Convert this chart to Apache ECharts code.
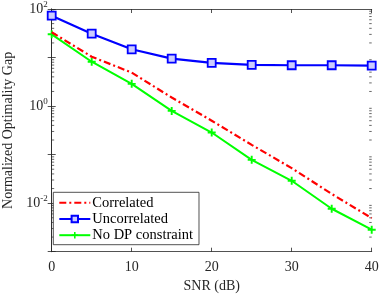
<!DOCTYPE html>
<html><head><meta charset="utf-8">
<script src="https://cdn.jsdelivr.net/npm/echarts@6/dist/echarts.min.js"></script>
<style>html,body{margin:0;padding:0;background:#fff}#c{width:382px;height:297px}</style>
</head><body><div id="c"></div>
<script>
var snr = [0, 5, 10, 15, 20, 25, 30, 35, 40];
var correlated = [33.2, 10.4, 4.9, 1.5, 0.5, 0.159, 0.0527, 0.0155, 0.00493];
var uncorrelated = [72.8, 31, 14.8, 9.5, 7.74, 7.05, 6.94, 6.94, 6.8];
var noDP = [30.1, 8.2, 2.87, 0.796, 0.285, 0.078, 0.0289, 0.00767, 0.00284];
var xTicks = [0, 10, 20, 30, 40];
var yMin = 0.001, yMax = 100;
var minorVals = [];
for (var k = -3; k <= 1; k++) { for (var m = 2; m <= 9; m++) { minorVals.push(m * Math.pow(10, k)); } }

var FONT = 'Liberation Serif';
var TXT = '#262626';
function pair(a) { return a.map(function (v, i) { return [snr[i], v]; }); }
var plus = 'path://M3.8,0H6.2V3.8H10V6.2H6.2V10H3.8V6.2H0V3.8H3.8Z';

var chart = echarts.init(document.getElementById('c'), null, {renderer: 'canvas'});
var axisLine = {show: true, lineStyle: {color: TXT, width: 0.8}};
var yLabel = {
  fontFamily: FONT, fontSize: 14, color: TXT, margin: 4,
  formatter: function (v) {
    var e = Math.round(Math.log10(v));
    if (e % 2 !== 0) return '';
    return '10{sup|' + e + '}';
  },
  rich: {sup: {fontSize: 9, fontFamily: FONT, color: TXT, verticalAlign: 'top', padding: [0, 0, 9, 0]}}
};
chart.setOption({
  animation: false,
  grid: {left: 51.7, right: 10.3, top: 9, bottom: 45.3, containLabel: false, outerBoundsMode: 'none'},
  xAxis: [{
    type: 'value', min: 0, max: 40, interval: 10, position: 'bottom',
    name: 'SNR (dB)', nameLocation: 'middle', nameGap: 27,
    nameTextStyle: {fontFamily: FONT, fontSize: 14, color: TXT},
    axisLine: axisLine, axisTick: {inside: true, length: 4, lineStyle: {color: TXT, width: 0.8}},
    axisLabel: {fontFamily: FONT, fontSize: 14, color: TXT, margin: 9},
    splitLine: {show: false}
  }, {
    type: 'value', min: 0, max: 40, interval: 10, position: 'top',
    axisLine: axisLine, axisTick: {inside: true, length: 4, lineStyle: {color: TXT, width: 0.8}},
    axisLabel: {show: false}, splitLine: {show: false}
  }],
  yAxis: [{
    type: 'log', logBase: 10, min: yMin, max: yMax, position: 'left',
    name: 'Normalized Optimality Gap', nameLocation: 'middle', nameGap: 35,
    nameTextStyle: {fontFamily: FONT, fontSize: 14, color: TXT},
    axisLine: axisLine, axisTick: {inside: true, length: 4, lineStyle: {color: TXT, width: 0.8}},
    axisLabel: yLabel, splitLine: {show: false}
  }, {
    type: 'log', logBase: 10, min: yMin, max: yMax, position: 'right',
    axisLine: axisLine, axisTick: {inside: true, length: 4, lineStyle: {color: TXT, width: 0.8}},
    axisLabel: {show: false}, splitLine: {show: false}
  }],
  legend: {
    orient: 'vertical', left: 53.3, top: 192.3,
    data: [
      {name: 'Correlated', itemStyle: {color: 'rgba(0,0,0,0)', borderColor: 'rgba(0,0,0,0)', borderWidth: 0}},
      'Uncorrelated', 'No DP constraint'],
    itemWidth: 31, itemHeight: 8, itemGap: 1.2,
    padding: [3, 6, 2, 5],
    borderColor: TXT, borderWidth: 0.8, backgroundColor: '#fff',
    textStyle: {fontFamily: FONT, fontSize: 14.5, color: '#000', padding: [0, 0, 0, -3]}
  },
  series: [{
    type: 'custom', silent: true, xAxisIndex: 0, yAxisIndex: 0, z: 1,
    data: minorVals.map(function (v) { return [0, v]; }),
    renderItem: function (params, api) {
      var y = api.coord([0, api.value(1)])[1];
      var x0 = api.coord([0, 1])[0], x1 = api.coord([40, 1])[0];
      var st = {stroke: TXT, lineWidth: 0.7};
      return {type: 'group', children: [
        {type: 'line', shape: {x1: x0, y1: y, x2: x0 + 2.5, y2: y}, style: st},
        {type: 'line', shape: {x1: x1, y1: y, x2: x1 - 2.5, y2: y}, style: st}
      ]};
    }
  }, {
    name: 'No DP constraint', type: 'line', data: pair(noDP),
    symbol: plus, symbolSize: 8, showSymbol: true,
    lineStyle: {color: '#00ff00', width: 2}, itemStyle: {color: '#00ff00'}, z: 3
  }, {
    name: 'Correlated', type: 'line', data: pair(correlated),
    symbol: 'none',
    lineStyle: {color: '#ff0000', width: 2.2, type: [7, 3, 2, 3]}, itemStyle: {color: '#ff0000'}, z: 4
  }, {
    name: 'Uncorrelated', type: 'line', data: pair(uncorrelated),
    symbol: 'rect', symbolSize: 8, showSymbol: true,
    lineStyle: {color: '#0000ff', width: 2.2},
    itemStyle: {color: '#ccccff', borderColor: '#0000ff', borderWidth: 1.8}, z: 5
  }]
});
</script></body></html>
